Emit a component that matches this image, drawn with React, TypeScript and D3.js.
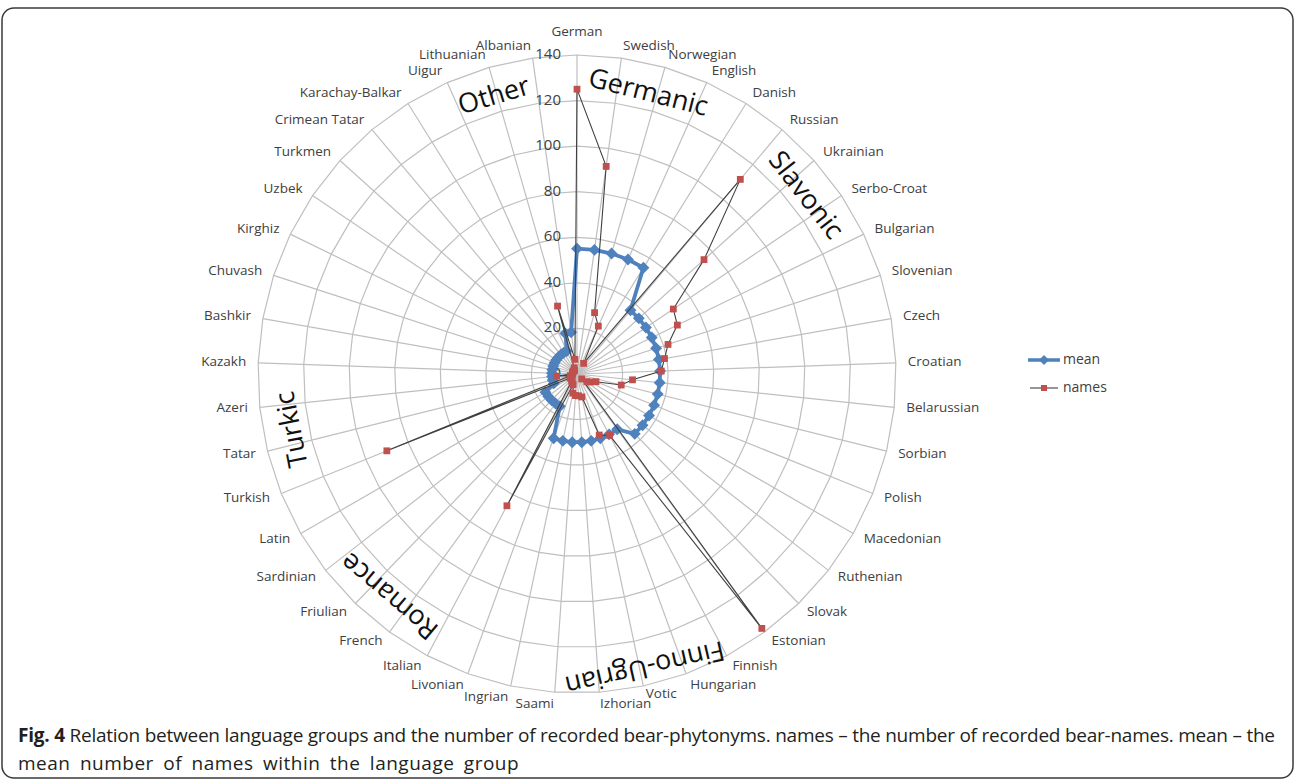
import React from 'react';
import * as d3 from 'd3';

const categories = [
  'German', 'Swedish', 'Norwegian', 'English', 'Danish',
  'Russian', 'Ukrainian', 'Serbo-Croat', 'Bulgarian', 'Slovenian', 'Czech', 'Croatian',
  'Belarussian', 'Sorbian', 'Polish', 'Macedonian', 'Ruthenian', 'Slovak',
  'Estonian', 'Finnish', 'Hungarian', 'Votic', 'Izhorian', 'Saami', 'Ingrian', 'Livonian',
  'Italian', 'French', 'Friulian', 'Sardinian', 'Latin',
  'Turkish', 'Tatar', 'Azeri', 'Kazakh', 'Bashkir', 'Chuvash', 'Kirghiz', 'Uzbek',
  'Turkmen', 'Crimean Tatar', 'Karachay-Balkar', 'Uigur',
  'Lithuanian', 'Albanian',
];

const names = [
  125, 92, 28, 23, 5.5,
  111.5, 75, 51, 49, 42, 39, 37, 24.5, 20, 9, 7, 5.5, 3,
  138, 30.5, 28.5, 10.3, 9.6, 9.5, 8.6, 5,
  65.5, 4, 3, 3, 3.5,
  90, 3, 9, 2, 2, 2, 2, 2, 2, 2, 2, 3,
  31, 6.5,
];

const mean = [
  55, 55, 55, 55, 55,
  36.5, 36.5, 36.5, 36.5, 36.5, 36.5, 36.5, 36.5, 36.5, 36.5, 36.5, 36.5, 36.5,
  30, 30, 30, 30, 30, 30, 30, 30,
  16, 16, 16, 16, 16,
  11, 11, 11, 11, 11, 11, 11, 11, 11, 11, 11, 11,
  18.5, 18.5,
];

const ticks = [0, 20, 40, 60, 80, 100, 120, 140];

const groupLabels = ['Other', 'Germanic', 'Slavonic', 'Finno-Ugrian', 'Romance', 'Turkic'];
const groupAngles = [-16.6, 14.2, 52, 167, 220.2, 259];

const seriesNames = ['mean', 'names'];

const captionBold = 'Fig. 4';
const captionLine1 =
  ' Relation between language groups and the number of recorded bear-phytonyms. names \u2013 the number of recorded bear-names. mean \u2013 the';
const captionLine2 = 'mean number of names within the language group';

const W = 1296;
const H = 782;
const CX = 577;
const CY = 374;
const R = 319;
const BLUE = '#4F81BD';
const RED = '#C0504D';
const GRID = '#bfbfbf';
const TXT = '#404040';
const FONT = '"Open Sans", "Liberation Sans", sans-serif';

export default function App() {
  const n = categories.length;
  const r = d3.scaleLinear().domain([0, 140]).range([0, R]);
  const ang = d3.scaleLinear().domain([0, n]).range([0, 2 * Math.PI]);
  const px = (i: number, v: number) => CX + r(v) * Math.sin(ang(i));
  const py = (i: number, v: number) => CY - r(v) * Math.cos(ang(i));

  const radial = d3
    .lineRadial<number>()
    .angle((_, i) => ang(i))
    .radius((d) => r(d))
    .curve(d3.curveLinearClosed);

  const gridPath = (t: number) => radial(categories.map(() => t)) || '';

  const labelR = R + 12;

  return (
    <svg
      width={W}
      height={H}
      style={{ position: 'absolute', left: 0, top: 0, display: 'block', background: '#fff' }}
      fontFamily={FONT}
    >
      <rect x={2} y={8} width={W - 5} height={H - 12} rx={12} ry={12} fill="#fff" stroke="#3a3a3a" strokeWidth={1.5} />

      {/* grid rings */}
      <g transform={`translate(${CX},${CY})`}>
        {ticks.filter((t) => t > 0).map((t) => (
          <path key={t} d={gridPath(t)} fill="none" stroke={GRID} strokeWidth={1.2} />
        ))}
      </g>
      {/* spokes */}
      {categories.map((c, i) => (
        <line key={c} x1={CX} y1={CY} x2={px(i, 140)} y2={py(i, 140)} stroke={GRID} strokeWidth={1.2} />
      ))}

      {/* tick labels */}
      {ticks.map((t) => (
        <text key={t} x={CX - 16} y={CY - r(t)} textAnchor="end" dominantBaseline="middle" fontSize={15} fill={TXT}>
          {t}
        </text>
      ))}

      {/* category labels */}
      {categories.map((c, i) => {
        const s = Math.sin(ang(i));
        const anchor = s > 0.05 ? 'start' : s < -0.05 ? 'end' : 'middle';
        const extra = Math.abs(s) <= 0.05 && Math.cos(ang(i)) > 0 ? -11 : 0;
        const nudge = c === 'Votic' ? -3 : 0;
        return (
          <text
            key={c}
            x={CX + labelR * s}
            y={CY - labelR * Math.cos(ang(i)) + extra + nudge}
            textAnchor={anchor}
            dominantBaseline="middle"
            fontSize={13.5}
            fill={TXT}
          >
            {c}
          </text>
        );
      })}

      {/* group labels */}
      {groupLabels.map((g, k) => {
        const a = (groupAngles[k] * Math.PI) / 180;
        const gr = g === 'Finno-Ugrian' ? 300 : 289;
        const x = CX + gr * Math.sin(a);
        const y = CY - gr * Math.cos(a);
        return (
          <text
            key={g}
            transform={`translate(${x},${y}) rotate(${groupAngles[k]})`}
            textAnchor="middle"
            dominantBaseline="middle"
            fontSize={27}
            fill="#111"
          >
            {g}
          </text>
        );
      })}

      {/* mean series */}
      <g transform={`translate(${CX},${CY})`}>
        <path d={radial(mean) || ''} fill="none" stroke={BLUE} strokeWidth={3.8} strokeLinejoin="round" />
      </g>
      {mean.map((v, i) => (
        <rect
          key={'m' + i}
          x={px(i, v) - 4.2}
          y={py(i, v) - 4.2}
          width={8.4}
          height={8.4}
          fill={BLUE}
          transform={`rotate(45,${px(i, v)},${py(i, v)})`}
        />
      ))}

      {/* names series */}
      <g transform={`translate(${CX},${CY})`}>
        <path d={radial(names) || ''} fill="none" stroke="#404040" strokeWidth={1.1} />
      </g>
      {names.map((v, i) => (
        <rect key={'n' + i} x={px(i, v) - 3.4} y={py(i, v) - 3.4} width={6.8} height={6.8} fill={RED} />
      ))}

      {/* legend */}
      <g fontSize={14} fill={TXT}>
        <line x1={1028} x2={1060} y1={360} y2={360} stroke={BLUE} strokeWidth={3.5} />
        <rect x={1040.5} y={356.5} width={7} height={7} fill={BLUE} transform="rotate(45,1044,360)" />
        <text x={1063} y={360} dominantBaseline="middle">{seriesNames[0]}</text>
        <line x1={1030} x2={1058} y1={388} y2={388} stroke="#404040" strokeWidth={1.1} />
        <rect x={1041} y={385} width={6} height={6} fill={RED} />
        <text x={1063} y={388} dominantBaseline="middle">{seriesNames[1]}</text>
      </g>

      {/* caption */}
      <text x={18} y={742} fontSize={19} fill="#231f20" textLength={1257} lengthAdjust="spacing">
        <tspan fontWeight="bold">{captionBold}</tspan>
        <tspan>{captionLine1}</tspan>
      </text>
      <text x={18} y={770} fontSize={19} fill="#231f20" wordSpacing={4} letterSpacing={0.5}>
        {captionLine2}
      </text>
    </svg>
  );
}
